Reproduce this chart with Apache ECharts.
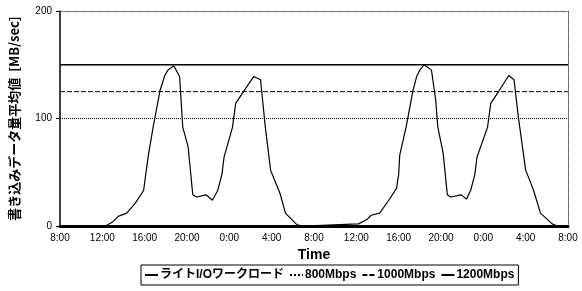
<!DOCTYPE html>
<html>
<head>
<meta charset="utf-8">
<script src="https://cdn.jsdelivr.net/npm/echarts@6/dist/echarts.min.js"></script>
<style>
  html, body { margin: 0; padding: 0; background: #fff; }
  #eChart1 { width: 582px; height: 291px; }
</style>
</head>
<body>
<div id="eChart1"></div>
<script>
// hours since 8:00 on day 1, and write rate in MB/sec
var timeHours = [0, 4.3, 5.0, 5.5, 6.3, 7.1, 7.9, 8.1, 8.35, 8.8, 9.45, 9.9, 10.2, 10.75, 11.3, 11.6, 12.1, 12.55, 12.9, 13.8, 14.4, 14.9, 15.3, 15.5, 16.3, 16.6, 17.4, 18.3, 18.95, 19.4, 19.9, 20.3, 20.8, 21.3, 22.4, 23,
                 28.2, 29.0, 29.4, 30.2, 31.0, 31.8, 32.0, 32.1, 32.7, 33.35, 33.7, 34.0, 34.4, 35.1, 35.5, 35.7, 36.2, 36.6, 36.9, 37.9, 38.4, 38.8, 39.2, 39.4, 40.4, 40.7, 41.5, 42.4, 42.9, 43.3, 44.0, 44.4, 44.75, 45.4, 46.5, 47, 48];
var workload = [0, 0, 4, 9, 12, 21, 33, 48, 66, 92, 126, 140, 145, 149, 139, 92, 74, 29, 27, 29, 24, 33, 48, 64, 92, 114, 126, 139, 136, 92, 52, 42, 30, 12, 1, 0,
                2, 6, 10, 12, 23, 35, 48, 66, 92, 126, 139, 145, 150, 145, 117, 92, 68, 29, 27, 29, 25, 33, 48, 64, 92, 114, 126, 140, 136, 102, 52, 42, 33, 12, 2, 0, 0];
var limitNames = ['800Mbps', '1000Mbps', '1200Mbps'];
var limitValues = [100, 125, 150];
var limitTypes = ['dotted', [5, 2], 'solid'];
var limitWidths = [1, 1, 1.5];
var workloadName = 'ライトI/Oワークロード';

var pts = [];
for (var i = 0; i < timeHours.length; i++) {
  pts.push([timeHours[i], workload[i]]);
}

var seriesList = [{
  name: workloadName,
  type: 'line',
  symbol: 'none',
  itemStyle: {color: '#000'},
  lineStyle: {color: '#000', width: 1.2},
  data: pts,
  z: 5
}];
limitNames.forEach(function (n, idx) {
  seriesList.push({
    name: n,
    type: 'line',
    symbol: 'none',
    itemStyle: {color: '#000'},
    lineStyle: {color: '#000', width: limitWidths[idx], type: limitTypes[idx]},
    data: [[0, limitValues[idx]], [48, limitValues[idx]]]
  });
});

var option1 = {
  animation: false,
  color: ['#000'],
  textStyle: {fontFamily: 'Liberation Sans, Arial, sans-serif'},
  grid: {left: 56, right: 14, top: 11, bottom: 65},
  legend: {
    left: 141,
    top: 265,
    padding: [4, 4, 4, 3],
    itemGap: 5,
    itemWidth: 13,
    itemHeight: 8,
    borderColor: '#000',
    borderWidth: 1,
    borderRadius: 0,
    itemStyle: {opacity: 0},
    textStyle: {color: '#000', fontSize: 12, fontWeight: 'bold', fontFamily: 'Liberation Sans, "Noto Sans CJK JP", sans-serif', padding: [0, 0, 0, -3]},
    data: [workloadName].concat(limitNames)
  },
  xAxis: [{
    type: 'value',
    min: 0,
    max: 48,
    interval: 4,
    name: 'Time',
    nameLocation: 'middle',
    nameGap: 17,
    nameTextStyle: {color: '#000', fontSize: 14, fontWeight: 'bold'},
    axisLine: {lineStyle: {color: '#000', width: 3}},
    axisTick: {show: false},
    splitLine: {show: false},
    axisLabel: {
      color: '#000', fontSize: 10, margin: 7,
      formatter: function (v) { return ((8 + v) % 24) + ':00'; }
    }
  }, {
    type: 'value', min: 0, max: 48, position: 'top',
    axisLine: {show: true, onZero: false, lineStyle: {color: '#555', width: 1, type: 'dotted'}},
    axisTick: {show: false}, axisLabel: {show: false}, splitLine: {show: false}
  }],
  yAxis: [{
    type: 'value',
    min: 0,
    max: 200,
    interval: 100,
    name: '書き込みデータ量平均値  [MB/sec]',
    nameLocation: 'middle',
    nameRotate: 90,
    nameGap: 39,
    nameTextStyle: {color: '#000', fontSize: 13, fontWeight: 'bold', fontFamily: '"Noto Sans CJK JP", sans-serif'},
    axisLine: {show: true, lineStyle: {color: '#000', width: 1.5}},
    axisTick: {show: true, length: 4, lineStyle: {color: '#000'}},
    splitLine: {show: false},
    axisLabel: {color: '#000', fontSize: 10, margin: 8}
  }, {
    type: 'value', min: 0, max: 200, position: 'right',
    axisLine: {show: true, onZero: false, lineStyle: {color: '#555', width: 1, type: 'dotted'}},
    axisTick: {show: false}, axisLabel: {show: false}, splitLine: {show: false}
  }],
  series: seriesList
};

var myChart1 = echarts.init(document.getElementById('eChart1'));
myChart1.setOption(option1, true);
</script>
</body>
</html>
